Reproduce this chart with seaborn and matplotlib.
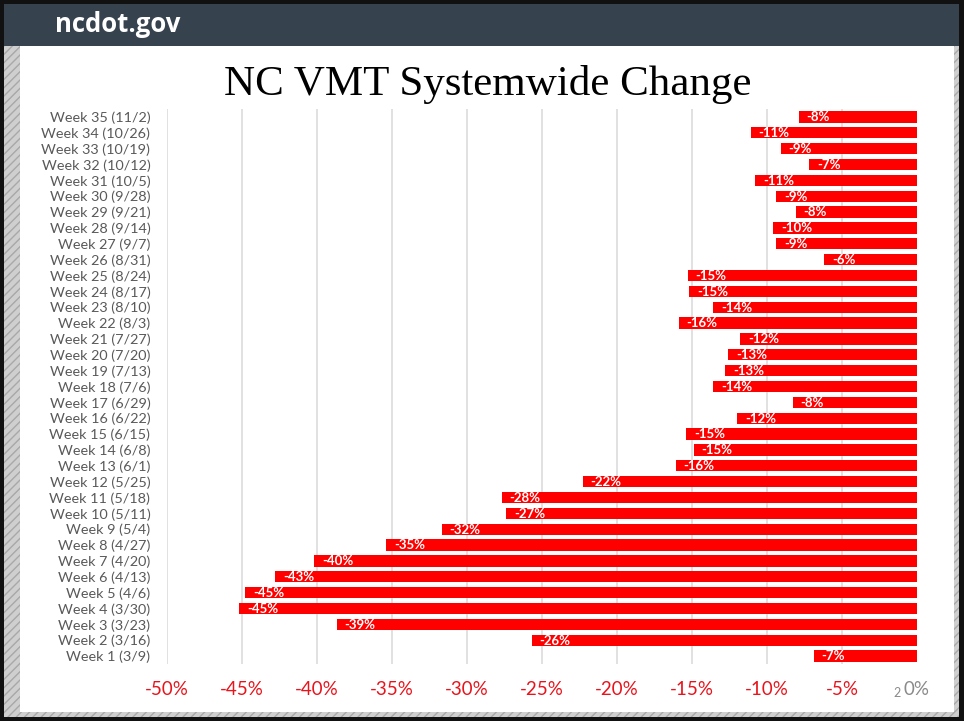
import matplotlib
matplotlib.use("Agg")
import matplotlib.pyplot as plt
import matplotlib.patches as mpatches
from matplotlib import font_manager
import seaborn as sns
import pandas as pd

# ---- data ----
weeks = ["Week 35 (11/2)", "Week 34 (10/26)", "Week 33 (10/19)", "Week 32 (10/12)",
         "Week 31 (10/5)", "Week 30 (9/28)", "Week 29 (9/21)", "Week 28 (9/14)",
         "Week 27 (9/7)", "Week 26 (8/31)", "Week 25 (8/24)", "Week 24 (8/17)",
         "Week 23 (8/10)", "Week 22 (8/3)", "Week 21 (7/27)", "Week 20 (7/20)",
         "Week 19 (7/13)", "Week 18 (7/6)", "Week 17 (6/29)", "Week 16 (6/22)",
         "Week 15 (6/15)", "Week 14 (6/8)", "Week 13 (6/1)", "Week 12 (5/25)",
         "Week 11 (5/18)", "Week 10 (5/11)", "Week 9 (5/4)", "Week 8 (4/27)",
         "Week 7 (4/20)", "Week 6 (4/13)", "Week 5 (4/6)", "Week 4 (3/30)",
         "Week 3 (3/23)", "Week 2 (3/16)", "Week 1 (3/9)"]
change = [-7.9, -11.1, -9.1, -7.2, -10.8, -9.4, -8.1, -9.6, -9.4, -6.2,
          -15.3, -15.2, -13.6, -15.9, -11.8, -12.6, -12.8, -13.6, -8.3, -12.0,
          -15.4, -14.9, -16.1, -22.3, -27.7, -27.4, -31.7, -35.4, -40.2, -42.8,
          -44.8, -45.2, -38.7, -25.7, -6.9]
value_labels = ["-8%", "-11%", "-9%", "-7%", "-11%", "-9%", "-8%", "-10%", "-9%", "-6%",
                "-15%", "-15%", "-14%", "-16%", "-12%", "-13%", "-13%", "-14%", "-8%", "-12%",
                "-15%", "-15%", "-16%", "-22%", "-28%", "-27%", "-32%", "-35%", "-40%", "-43%",
                "-45%", "-45%", "-39%", "-26%", "-7%"]
x_ticks = [-50, -45, -40, -35, -30, -25, -20, -15, -10, -5, 0]
x_tick_labels = ["-50%", "-45%", "-40%", "-35%", "-30%", "-25%", "-20%", "-15%", "-10%", "-5%", "0%"]
title = "NC VMT Systemwide Change"
header = "ncdot.gov"

df = pd.DataFrame({"week": weeks, "change": change})

# ---- fonts ----
names = {f.name for f in font_manager.fontManager.ttflist}
narrow = "Liberation Sans Narrow" if "Liberation Sans Narrow" in names else "Lato"
body = "Lato" if "Lato" in names else "DejaVu Sans"

sns.set_theme(style="white")
plt.rcParams["font.family"] = [body, "DejaVu Sans"]

W, H = 964, 721
fig = plt.figure(figsize=(W / 100, H / 100), dpi=100)
fig.patch.set_facecolor("white")


def rect(x0, y0, x1, y1, **kw):
    r = mpatches.Rectangle((x0 / W, 1 - y1 / H), (x1 - x0) / W, (y1 - y0) / H,
                           transform=fig.transFigure, zorder=kw.pop("zorder", -10), **kw)
    fig.patches.append(r)
    return r


# frame
rect(0, 0, W, H, facecolor="#111111", edgecolor="none", zorder=-20)
rect(4, 46, 959, 717, facecolor="#cfcfcf", edgecolor="#a8a8a8", hatch="////",
     linewidth=0, zorder=-15)
rect(20, 46, 954, 712, facecolor="white", edgecolor="none", zorder=-12)
rect(4, 4, 959, 46, facecolor="#36424e", edgecolor="none", zorder=-11)

fig.text(55 / W, 1 - 25 / H, header, color="white", fontsize=18.5, fontweight="bold",
         family=["Open Sans", "DejaVu Sans"], ha="left", va="center")
fig.text(488 / W, 1 - 84 / H, title, color="black", fontsize=31,
         family=["Liberation Serif", "DejaVu Serif"], ha="center", va="center")

ax = fig.add_axes([167 / W, 1 - 664 / H, (917 - 167) / W, (664 - 109) / H])
ax.set_facecolor("none")

sns.barplot(data=df, x="change", y="week", orient="h", color="#ff0000",
            saturation=1, width=0.72, ax=ax, zorder=3)
for p in ax.patches:
    p.set_edgecolor("none")

for t in x_ticks[:-1]:
    ax.axvline(t, color="#d9d9d9", lw=1.1, zorder=0)

for i, (v, lab) in enumerate(zip(change, value_labels)):
    ax.annotate(lab, xy=(v, i), xytext=(5.8, -0.3), textcoords="offset points",
                color="white", fontweight="bold", fontsize=9.5, ha="left", va="center",
                zorder=5)

ax.set_xlim(-50, 0)
ax.set_ylim(len(weeks) - 0.5, -0.5)
ax.set_xticks(x_ticks)
ax.set_xticklabels(x_tick_labels)
ax.set_xlabel("")
ax.set_ylabel("")
for s in ax.spines.values():
    s.set_visible(False)
ax.tick_params(axis="x", length=0, pad=12, labelsize=13.5)
ax.tick_params(axis="y", length=0, pad=12, labelsize=10.4, labelcolor="#595959")
for lbl in ax.get_xticklabels():
    lbl.set_family([narrow, "DejaVu Sans"])
    lbl.set_color("#e8141c")
ax.get_xticklabels()[-1].set_color("#8a8a8a")

fig.text(897 / W, 1 - 693 / H, "2", color="#8a8a8a", fontsize=9,
         family=[narrow, "DejaVu Sans"], ha="center", va="center")

fig.savefig("out.png", dpi=100)
